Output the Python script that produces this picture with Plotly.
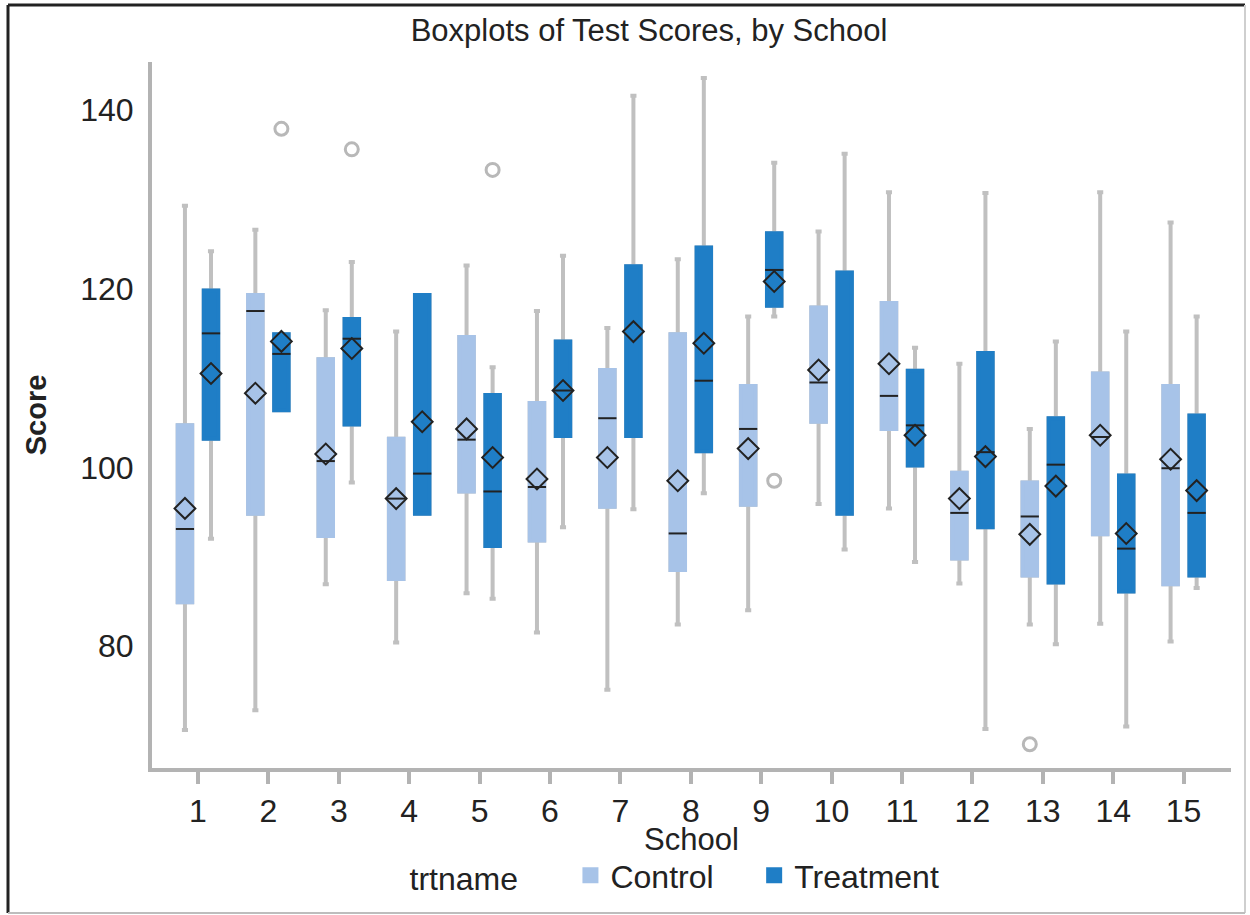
import plotly.graph_objects as go

# ---------------- data ----------------
schools = list(range(1, 16))
school_labels = [str(s) for s in schools]

ctrl_q1 = [84.9, 94.8, 92.3, 87.5, 97.3, 91.8, 95.6, 88.5, 95.8, 105.1, 104.3, 89.8, 87.9, 92.5, 86.9]
ctrl_median = [93.1, 117.5, 100.7, 96.5, 103.1, 97.8, 105.5, 92.6, 104.3, 109.5, 108.0, 94.9, 94.5, 103.4, 99.9]
ctrl_q3 = [104.7, 119.3, 112.1, 103.2, 114.6, 107.2, 110.9, 114.9, 109.1, 117.9, 118.4, 99.4, 98.3, 110.5, 109.1]
ctrl_low = [70.6, 72.8, 86.9, 80.4, 85.9, 81.5, 75.1, 82.4, 84.0, 95.9, 95.4, 87.0, 82.4, 82.5, 80.5]
ctrl_high = [129.3, 126.6, 117.6, 115.2, 122.6, 117.5, 115.6, 123.3, 116.9, 126.4, 130.8, 111.6, 104.3, 130.8, 127.4]
ctrl_mean = [95.4, 108.3, 101.5, 96.5, 104.3, 98.7, 101.1, 98.5, 102.1, 110.9, 111.6, 96.5, 92.5, 103.6, 100.9]

trt_q1 = [103.2, 106.4, 104.8, 94.8, 91.2, 103.5, 103.5, 101.8, 118.1, 94.8, 100.2, 93.3, 87.1, 86.1, 87.9]
trt_median = [115.0, 112.7, 114.4, 99.3, 97.3, 108.6, None, 109.7, 122.1, None, 104.7, 101.7, 100.3, 90.9, 94.9]
trt_q3 = [119.8, 114.9, 116.6, 119.3, 108.1, 114.1, 122.5, 124.6, 126.2, 121.8, 110.8, 112.8, 105.5, 99.1, 105.8]
trt_low = [92.0, 106.4, 98.3, 94.8, 85.3, 93.3, 95.3, 97.1, 116.9, 90.8, 89.4, 70.7, 80.2, 71.0, 86.5]
trt_high = [124.2, 114.9, 123.0, 119.3, 111.2, 123.7, 141.6, 143.6, 134.1, 135.1, 113.4, 130.7, 114.1, 115.2, 116.9]
trt_mean = [110.5, 114.1, 113.3, 105.1, 101.1, 108.6, 115.2, 113.9, 120.8, None, 103.6, 101.2, 97.9, 92.6, 97.4]

# outliers: (school, group, value)
outlier_school = [2, 3, 5, 9, 13]
outlier_group = ["Treatment", "Treatment", "Treatment", "Treatment", "Control"]
outlier_value = [137.9, 135.6, 133.3, 98.5, 69.0]

y_ticks = [80, 100, 120, 140]

# ---------------- styling ----------------
CTRL_FILL = "#a7c3e8"
TRT_FILL = "#1f7ec6"
WHISK = "#c0c0c0"
AXIS = "#b3b3b3"
INK = "#222222"
FONT = "Liberation Sans, Arial, sans-serif"
NB = "\u00a0"

OFFSET = 0.185      # half distance between paired boxes (data units)
BOX_W = 0.206       # nominal box width (data units)

ctrl_x = [s - OFFSET for s in schools]
trt_x = [s + OFFSET for s in schools]
group_x = {"Control": ctrl_x, "Treatment": trt_x}

fig = go.Figure()


def add_group(xs, q1, med, q3, lo, hi, fill):
    box_med = [m if m is not None else a for m, a in zip(med, q1)]
    # whiskers (grey)
    fig.add_trace(go.Box(
        x=xs, q1=q1, median=box_med, q3=q3, lowerfence=lo, upperfence=hi,
        width=BOX_W, whiskerwidth=0.42, fillcolor=fill,
        line=dict(color=WHISK, width=4), boxpoints=False,
        showlegend=False, hoverinfo="skip"))
    # box body (no outline)
    fig.add_trace(go.Box(
        x=xs, q1=q1, median=box_med, q3=q3, lowerfence=q1, upperfence=q3,
        width=BOX_W, whiskerwidth=0, fillcolor=fill,
        line=dict(color=fill, width=4), boxpoints=False,
        showlegend=False, hoverinfo="skip"))


add_group(ctrl_x, ctrl_q1, ctrl_median, ctrl_q3, ctrl_low, ctrl_high, CTRL_FILL)
add_group(trt_x, trt_q1, trt_median, trt_q3, trt_low, trt_high, TRT_FILL)

# outliers
out_x = [group_x[g][s - 1] for s, g in zip(outlier_school, outlier_group)]
fig.add_trace(go.Scatter(
    x=out_x, y=outlier_value, mode="markers",
    marker=dict(symbol="circle-open", size=13, color="#b8b8b8", line=dict(width=3)),
    showlegend=False, hoverinfo="skip"))

# medians
fig.add_trace(go.Scatter(
    x=ctrl_x + trt_x, y=ctrl_median + trt_median, mode="markers",
    marker=dict(symbol="line-ew", size=13, line=dict(width=2, color=INK)),
    showlegend=False, hoverinfo="skip"))

# means
fig.add_trace(go.Scatter(
    x=ctrl_x + trt_x, y=ctrl_mean + trt_mean, mode="markers",
    marker=dict(symbol="diamond-open", size=16, color=INK, line=dict(width=2)),
    showlegend=False, hoverinfo="skip"))

# legend entries
for name, col, pad in [("Control", CTRL_FILL, 4), ("Treatment", TRT_FILL, 0)]:
    fig.add_trace(go.Scatter(
        x=[None], y=[None], mode="markers", name=name + NB * pad,
        marker=dict(symbol="square", size=16, color=col)))

# ---------------- layout ----------------
W, H = 1250, 915
L, R, T, B = 152, 19, 62, 147
pw, ph = W - L - R, H - T - B


def px(xp):
    return (xp - L) / pw


def py(yp):
    return (H - B - yp) / ph


frame = [
    (8, 5, 1245, 5, "#222222", 3),
    (8, 5, 8, 913, "#222222", 3),
    (1245, 5, 1245, 913, "#cfcfcf", 2),
    (8, 913, 1245, 913, "#bdbdbd", 2),
]
shapes = [dict(type="line", xref="paper", yref="paper",
               x0=px(a), y0=py(b), x1=px(c), y1=py(d),
               line=dict(color=col, width=w)) for a, b, c, d, col, w in frame]

fig.update_layout(
    width=W, height=H,
    margin=dict(l=L, r=R, t=T, b=B),
    paper_bgcolor="white", plot_bgcolor="white",
    font=dict(family=FONT, color=INK, size=32),
    title=dict(text="Boxplots of Test Scores, by School", x=649 / W, xref="container",
               xanchor="center", y=1 - 30 / H, yref="container", yanchor="middle",
               font=dict(size=31, color=INK, family=FONT)),
    xaxis=dict(range=[0.347, 15.673], tickvals=schools, ticktext=school_labels,
               showgrid=False, zeroline=False, showline=True, linecolor=AXIS, linewidth=4,
               ticks="outside", ticklen=12, tickwidth=4, tickcolor=AXIS,
               tickfont=dict(size=32, color=INK)),
    yaxis=dict(range=[66.34, 145.38], tickvals=y_ticks,
               showgrid=False, zeroline=False, showline=True, linecolor=AXIS, linewidth=4,
               ticks="", tickfont=dict(size=32, color=INK), ticklabelstandoff=8,
               title=dict(text="<b>Score</b>", font=dict(size=29, color=INK), standoff=26)),
    annotations=[dict(text="School", xref="paper", yref="paper", x=0.5, y=py(839),
                      xanchor="center", yanchor="middle", showarrow=False,
                      font=dict(size=31, color=INK))],
    legend=dict(orientation="h", x=px(676), xanchor="center",
                y=py(903), yanchor="bottom",
                title=dict(text="trtname" + NB * 5, font=dict(size=32, color=INK)),
                font=dict(size=32, color=INK), bgcolor="rgba(0,0,0,0)"),
    shapes=shapes,
    showlegend=True,
)

fig.write_html("out.html", config={"displayModeBar": False},
               post_script="document.body.style.margin='0';")
